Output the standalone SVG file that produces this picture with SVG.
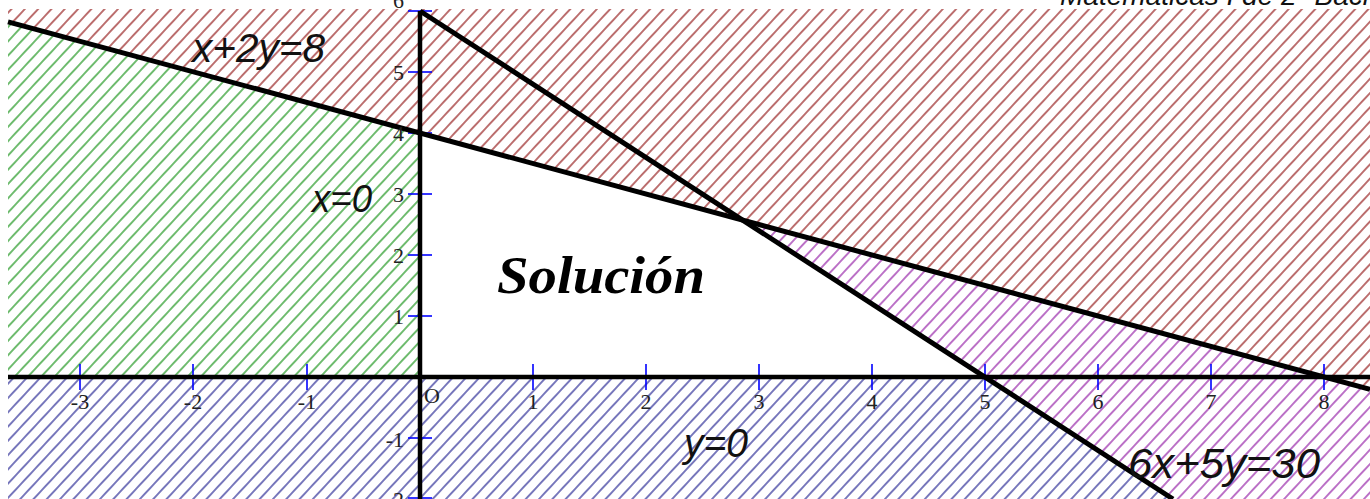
<svg xmlns="http://www.w3.org/2000/svg" width="1370" height="499" viewBox="0 0 1370 499">
<style>
.lbl{font-family:"Liberation Sans",Arial,sans-serif;font-style:italic;fill:#111}
.tk{font-family:"Liberation Serif","Times New Roman",serif;font-size:22px;fill:#222}
.tkx{text-anchor:middle}
.tky{text-anchor:end}
.tick{stroke:#0000ff;stroke-width:1.6}
.ax{stroke:#000;stroke-width:4.5;fill:none}
.bd{stroke:#000;stroke-width:5;fill:none}
</style>
<defs>
<pattern id="hRed" patternUnits="userSpaceOnUse" width="9.73" height="10" patternTransform="rotate(43)"><line x1="4.86" y1="-1" x2="4.86" y2="11" stroke="#a03434" stroke-width="1.4"/></pattern>
<pattern id="hGreen" patternUnits="userSpaceOnUse" width="9.73" height="10" patternTransform="rotate(43)"><line x1="4.86" y1="-1" x2="4.86" y2="11" stroke="#34a034" stroke-width="1.4"/></pattern>
<pattern id="hBlue" patternUnits="userSpaceOnUse" width="9.73" height="10" patternTransform="rotate(43)"><line x1="4.86" y1="-1" x2="4.86" y2="11" stroke="#4040a0" stroke-width="1.4"/></pattern>
<pattern id="hPurple" patternUnits="userSpaceOnUse" width="9.73" height="10" patternTransform="rotate(43)"><line x1="4.86" y1="-1" x2="4.86" y2="11" stroke="#a038b0" stroke-width="1.4"/></pattern>
</defs>
<rect width="1370" height="499" fill="#fff"/>
<text class="lbl" x="1060" y="5" font-size="28">Matemáticas I de 2º Bachi</text>
<g id="regions">
<polygon id="region-red" points="8,9 1370,9 1370,389.4 8,21.8" fill="url(#hRed)"/>
<polygon id="region-green" points="8,21.8 420,133 420,377 8,377" fill="url(#hGreen)"/>
<polygon id="region-purple" points="742.9,220.1 1370,389.4 1370,499 1173,499" fill="url(#hPurple)"/>
<polygon id="region-blue" points="8,377 985,377 1173,499 8,499" fill="url(#hBlue)"/>
</g>
<g id="ticks">
<line class="tick" x1="80" y1="364" x2="80" y2="390"/>
<line class="tick" x1="193" y1="364" x2="193" y2="390"/>
<line class="tick" x1="307" y1="364" x2="307" y2="390"/>
<line class="tick" x1="533" y1="364" x2="533" y2="390"/>
<line class="tick" x1="646" y1="364" x2="646" y2="390"/>
<line class="tick" x1="759" y1="364" x2="759" y2="390"/>
<line class="tick" x1="872" y1="364" x2="872" y2="390"/>
<line class="tick" x1="985" y1="364" x2="985" y2="390"/>
<line class="tick" x1="1098" y1="364" x2="1098" y2="390"/>
<line class="tick" x1="1211" y1="364" x2="1211" y2="390"/>
<line class="tick" x1="1324" y1="364" x2="1324" y2="390"/>
<line class="tick" x1="408" y1="11" x2="432" y2="11"/>
<line class="tick" x1="408" y1="72" x2="432" y2="72"/>
<line class="tick" x1="408" y1="133" x2="432" y2="133"/>
<line class="tick" x1="408" y1="194" x2="432" y2="194"/>
<line class="tick" x1="408" y1="255" x2="432" y2="255"/>
<line class="tick" x1="408" y1="316" x2="432" y2="316"/>
<line class="tick" x1="408" y1="438" x2="432" y2="438"/>
<line class="tick" x1="408" y1="498" x2="432" y2="498"/>
</g>
<g id="connectors">
<line id="axis-x" class="ax" x1="8" y1="377" x2="1370" y2="377"/>
<line id="axis-y" class="ax" x1="420" y1="11" x2="420" y2="499"/>
<line id="line-x2y8" class="bd" x1="8" y1="21.8" x2="1370" y2="389.4"/>
<line id="line-6x5y30" class="bd" x1="420" y1="11" x2="1173" y2="499"/>
</g>
<g id="tick-labels">
<text class="tk tkx" x="80" y="409">-3</text>
<text class="tk tkx" x="193" y="409">-2</text>
<text class="tk tkx" x="307" y="409">-1</text>
<text class="tk tkx" x="533" y="409">1</text>
<text class="tk tkx" x="646" y="409">2</text>
<text class="tk tkx" x="759" y="409">3</text>
<text class="tk tkx" x="872" y="409">4</text>
<text class="tk tkx" x="985" y="409">5</text>
<text class="tk tkx" x="1098" y="409">6</text>
<text class="tk tkx" x="1211" y="409">7</text>
<text class="tk tkx" x="1324" y="409">8</text>
<text class="tk tky" x="404" y="8">6</text>
<text class="tk tky" x="404" y="80">5</text>
<text class="tk tky" x="404" y="141">4</text>
<text class="tk tky" x="404" y="202">3</text>
<text class="tk tky" x="404" y="263">2</text>
<text class="tk tky" x="404" y="324">1</text>
<text class="tk tky" x="404" y="447">-1</text>
<text class="tk tky" x="404" y="507">-2</text>
<text class="tk" x="424" y="403" font-size="23">O</text>
</g>
<g id="label-x2y8"><text class="lbl" x="192" y="62" font-size="40" textLength="133" lengthAdjust="spacingAndGlyphs">x+2y=8</text></g>
<g id="label-x0"><text class="lbl" x="312" y="212" font-size="38" textLength="60" lengthAdjust="spacingAndGlyphs">x=0</text></g>
<g id="label-y0"><text class="lbl" x="684" y="457" font-size="40" textLength="64" lengthAdjust="spacingAndGlyphs">y=0</text></g>
<g id="label-6x5y30"><text class="lbl" x="1128" y="478" font-size="42" textLength="192" lengthAdjust="spacingAndGlyphs">6x+5y=30</text></g>
<g id="label-solucion"><text x="497" y="293" font-family="'Liberation Serif','Times New Roman',serif" font-style="italic" font-weight="bold" font-size="52" fill="#000" textLength="208" lengthAdjust="spacingAndGlyphs">Solución</text></g>
</svg>
